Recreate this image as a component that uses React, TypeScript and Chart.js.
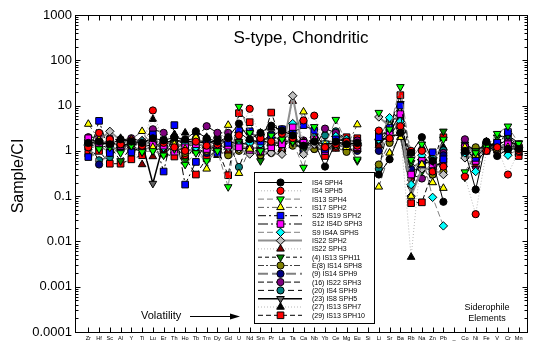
import React, { useEffect, useRef } from 'react';
import { Chart, registerables } from 'chart.js';
Chart.register(...registerables);

const FONT = '"Liberation Sans", Arial, Helvetica, sans-serif';

const categories = ['Zr','Hf','Sc','Al','Y','Ti','Lu','Er','Th','Ho','Tb','Tm','Dy','Gd','U','Nd','Sm','Pr','La','Ta','Ca','Nb','Yb','Ce','Mg','Eu','Si','Li','Sr','Ba','Rb','Na','Zn','Pb','_','Co','Ni','Fe','V','Cr','Mn'];
const yTickLabels = ['0.0001','0.001','0.01','0.1','1','10','100','1000'];
const chartTitle = 'S-type, Chondritic';
const yTitle = 'Sample/CI';

const seriesNames = ['IS4 SPH4','IS4 SPH5','IS13 SPH4','IS17 SPH2','S25 IS19 SPH2','S12 IS4D SPH3','S9 IS4A SPHS','IS22 SPH2','IS22 SPH3','(4) IS13 SPH11','E(8) IS14 SPH8','(9) IS14 SPH9','(16) IS22 SPH3','(20) IS4 SPH9','(23) IS8 SPH5','(27) IS13 SPH7','(29) IS13 SPH10'];

const is4Sph4 = [1.5,1.6,1.4,1.8,1.6,1.5,1.9,1.7,2.0,1.8,2.7,1.9,1.6,2.0,4.0,1.8,2.5,3.6,2.8,2.2,1.3,1.6,0.45,1.6,1.4,1.5,null,0.3,0.65,2.5,0.9,2.0,0.6,0.075,null,1.0,0.14,1.6,0.77,1.1,1.1];
const is4Sph5 = [1.2,2.5,1.8,1.4,1.7,1.3,7.8,1.5,1.2,1.0,1.6,1.3,1.4,1.9,2.2,8.5,1.9,1.6,2.4,1.9,4.7,6.0,1.2,1.4,1.6,1.3,null,2.8,1.9,3.5,1.0,1.0,0.35,0.45,null,0.27,0.04,1.0,1.2,0.3,1.0];
const is13Sph4 = [1.3,1.1,1.2,0.9,1.3,0.95,1.0,0.8,1.1,0.5,0.9,0.6,1.0,0.16,9.5,2.5,1.0,2.2,1.8,1.6,0.43,3.4,1.3,4.9,1.5,0.65,null,7.0,3.0,26,0.64,1.4,0.6,1.8,null,0.34,0.9,1.2,2.4,3.5,1.45];
const is17Sph2 = [3.9,1.8,1.4,1.5,1.8,2.7,1.2,1.6,1.4,1.1,2.0,0.4,1.5,3.7,0.32,1.1,2.5,1.5,2.0,2.1,7.3,1.7,1.4,1.3,1.2,3.8,null,0.16,0.9,2.0,0.1,0.5,0.2,0.15,null,1.2,0.8,1.4,1.1,1.2,1.2];
const s25Is19Sph2 = [0.73,4.6,0.9,1.4,0.93,1.3,2.3,0.35,3.7,0.18,0.57,1.7,0.9,1.5,2.8,2.7,1.6,2.2,3.0,2.4,3.7,2.8,1.1,1.8,1.6,1.4,null,2.0,3.2,10,0.94,0.5,0.93,0.65,null,1.0,0.7,1.3,1.5,2.6,1.0];
const s12Is4dSph3 = [1.9,1.5,1.6,1.3,1.5,1.2,1.4,1.3,0.96,1.2,1.4,1.1,1.2,1.3,1.2,1.05,1.0,1.2,1.4,3.3,1.5,1.8,1.0,1.5,1.3,1.2,null,2.2,2.6,6.5,0.3,0.6,0.5,0.52,null,1.2,0.6,1.0,1.3,1.4,1.1];
const s9Is4aSphs = [1.3,1.4,1.2,1.6,1.4,1.6,1.5,1.2,1.3,1.4,1.2,1.6,1.1,1.4,1.3,1.5,1.4,1.9,1.4,4.0,1.3,2.0,1.5,2.1,1.8,1.4,null,1.8,5.4,4.5,0.18,0.8,0.094,0.022,null,0.9,0.35,1.1,1.2,0.8,1.1];
const is22Sph2 = [1.4,1.7,2.7,1.7,1.5,1.7,1.3,1.5,1.4,1.3,1.5,1.2,1.3,1.2,1.1,0.85,1.0,0.9,0.84,16.5,0.84,1.4,1.2,1.3,1.4,1.3,null,5.6,3.5,4.0,0.1,0.4,0.39,0.3,null,0.7,0.8,1.0,1.1,1.1,1.2];
const is22Sph3 = [1.2,1.3,1.1,1.2,1.3,0.5,0.75,1.1,1.0,1.2,1.0,1.3,0.8,1.0,1.2,1.1,0.9,1.0,1.1,12.5,1.6,1.3,1.1,1.1,1.2,1.07,null,1.3,2.0,3.5,0.25,0.7,0.45,0.5,null,1.0,0.5,1.2,1.0,1.0,0.9];
const n4Is13Sph11 = [1.5,1.2,1.3,0.6,1.2,0.95,1.0,1.2,1.5,0.6,1.4,1.2,0.9,1.2,1.6,1.3,0.6,1.2,1.4,1.5,1.1,1.6,1.4,1.9,1.7,0.6,null,2.5,4.0,11,0.55,0.35,0.5,2.7,null,0.26,1.0,1.3,2.0,2.2,1.5];
const e8Is14Sph8 = [1.4,1.2,1.0,1.3,1.2,1.1,1.2,1.3,1.0,0.9,1.3,1.0,1.1,0.8,1.0,0.95,0.8,0.9,1.0,1.3,1.2,1.1,1.07,1.2,0.95,1.1,null,0.5,1.5,3.0,0.28,0.6,0.3,0.35,null,1.1,1.2,1.1,1.2,1.0,1.3];
const n9Is14Sph9 = [1.2,0.5,0.9,1.1,1.0,1.1,2.1,1.1,1.2,1.0,1.1,0.9,0.9,0.9,1.3,1.1,1.2,1.4,1.3,1.7,1.0,1.2,1.0,1.2,1.1,1.0,null,1.0,2.5,3.7,0.4,0.6,0.55,0.8,null,1.3,0.9,1.2,1.08,1.2,1.15];
const n16Is22Sph3 = [2.0,2.0,1.9,1.7,1.9,1.6,3.0,2.5,2.0,1.7,1.9,3.5,2.5,2.5,2.6,1.7,1.6,2.3,1.6,1.6,1.7,1.1,3.1,2.5,1.7,1.7,null,1.8,2.0,5.0,0.3,0.245,0.3,0.9,null,1.8,0.45,1.3,1.5,1.6,1.3];
const n20Is4Sph9 = [1.4,0.62,0.73,1.6,1.7,1.4,1.6,1.8,1.6,1.5,1.7,1.6,1.4,1.6,0.44,1.7,1.6,2.0,3.0,2.0,0.88,1.5,2.2,2.7,1.8,1.5,null,0.4,4.5,6.0,0.35,0.43,0.7,1.03,null,0.85,1.0,1.5,1.3,1.8,1.2];
const n23Is8Sph5 = [1.6,1.4,1.5,1.3,1.4,1.5,0.19,1.5,1.7,1.6,1.6,1.5,1.7,1.6,1.4,1.5,1.7,1.5,1.5,1.8,1.4,1.5,1.5,1.4,1.6,1.3,null,1.5,2.2,2.2,0.15,0.9,0.4,0.6,null,1.4,1.0,1.4,1.2,1.2,1.1];
const n27Is13Sph7 = [1.7,1.6,1.5,1.9,1.7,1.6,5.0,1.8,2.3,2.5,2.6,2.0,2.2,2.0,1.8,1.9,2.0,3.2,2.0,2.2,1.6,1.8,1.4,1.8,1.5,1.6,null,2.0,1.8,2.8,0.0045,1.2,0.8,1.2,null,1.3,1.1,1.6,1.3,1.3,1.3];
const n29Is13Sph10 = [0.87,1.0,0.52,0.52,0.65,0.8,1.55,0.87,0.75,0.7,0.3,0.68,1.1,0.29,6.8,4.3,1.2,7.0,1.5,1.9,1.2,2.0,0.77,2.0,2.0,1.9,null,1.4,3.3,17,0.07,0.073,0.35,2.0,null,1.1,0.65,1.08,1.5,2.3,0.77];

const seriesValues = [is4Sph4,is4Sph5,is13Sph4,is17Sph2,s25Is19Sph2,s12Is4dSph3,s9Is4aSphs,is22Sph2,is22Sph3,n4Is13Sph11,e8Is14Sph8,n9Is14Sph9,n16Is22Sph3,n20Is4Sph9,n23Is8Sph5,n27Is13Sph7,n29Is13Sph10];

type St = { fill: string; marker: string; rot: number; r: number; line: string; dash: number[]; lw: number };
const seriesStyles: St[] = [
  { fill: '#000000', marker: 'circle', rot: 0, r: 3.6, line: '#000000', dash: [], lw: 1 },
  { fill: '#ff0000', marker: 'circle', rot: 0, r: 3.6, line: '#b8b8b8', dash: [1, 2], lw: 1 },
  { fill: '#00ff00', marker: 'triangle', rot: 180, r: 4.4, line: '#808080', dash: [6, 3], lw: 1 },
  { fill: '#ffff00', marker: 'triangle', rot: 0, r: 4.4, line: '#606060', dash: [6, 3, 2, 3], lw: 1 },
  { fill: '#0000ff', marker: 'rect', rot: 0, r: 4.7, line: '#000000', dash: [8, 3, 2, 3], lw: 1 },
  { fill: '#ff00ff', marker: 'rect', rot: 0, r: 4.7, line: '#000000', dash: [10, 3, 2, 3], lw: 1 },
  { fill: '#00ffff', marker: 'rectRot', rot: 0, r: 4.2, line: '#808080', dash: [6, 3], lw: 1 },
  { fill: '#c0c0c0', marker: 'rectRot', rot: 0, r: 4.2, line: '#909090', dash: [], lw: 2 },
  { fill: '#800000', marker: 'triangle', rot: 0, r: 4.4, line: '#b8b8b8', dash: [1, 2], lw: 1 },
  { fill: '#008000', marker: 'triangle', rot: 180, r: 4.4, line: '#000000', dash: [4, 3], lw: 1 },
  { fill: '#808000', marker: 'circle', rot: 0, r: 3.6, line: '#404040', dash: [6, 2, 2, 2], lw: 1 },
  { fill: '#000080', marker: 'circle', rot: 0, r: 3.6, line: '#808080', dash: [10, 4], lw: 2 },
  { fill: '#800080', marker: 'circle', rot: 0, r: 3.6, line: '#000000', dash: [6, 3], lw: 1 },
  { fill: '#008080', marker: 'circle', rot: 0, r: 3.6, line: '#000000', dash: [6, 4], lw: 1 },
  { fill: '#606060', marker: 'triangle', rot: 180, r: 4.4, line: '#000000', dash: [], lw: 1.5 },
  { fill: '#000000', marker: 'triangle', rot: 0, r: 4.4, line: '#b8b8b8', dash: [1, 2], lw: 1 },
  { fill: '#ff0000', marker: 'rect', rot: 0, r: 4.7, line: '#000000', dash: [5, 3], lw: 1 },
];

const yTicks: { value: number; label: string }[] = [];
for (let e = -4; e <= 3; e++) {
  const top = e === 3 ? 1 : 9;
  for (let m = 1; m <= top; m++) {
    yTicks.push({ value: m * Math.pow(10, e), label: m === 1 ? yTickLabels[e + 4] : '' });
  }
}

function drawMarker(ctx: CanvasRenderingContext2D, s: St, x: number, y: number) {
  ctx.save();
  ctx.setLineDash([]);
  ctx.lineWidth = 1;
  ctx.strokeStyle = '#000';
  ctx.fillStyle = s.fill;
  ctx.beginPath();
  const r = s.r;
  if (s.marker === 'circle') {
    ctx.arc(x, y, r, 0, Math.PI * 2);
  } else if (s.marker === 'rect') {
    const h = r * Math.SQRT1_2;
    ctx.rect(x - h, y - h, 2 * h, 2 * h);
  } else if (s.marker === 'rectRot') {
    ctx.moveTo(x - r, y); ctx.lineTo(x, y - r); ctx.lineTo(x + r, y); ctx.lineTo(x, y + r); ctx.closePath();
  } else {
    const base = s.rot === 180 ? Math.PI / 2 : -Math.PI / 2;
    for (let k = 0; k < 3; k++) {
      const a = base + (k * 2 * Math.PI) / 3;
      const px = x + Math.cos(a) * r, py = y + Math.sin(a) * r;
      if (k === 0) ctx.moveTo(px, py); else ctx.lineTo(px, py);
    }
    ctx.closePath();
  }
  ctx.fill();
  ctx.stroke();
  ctx.restore();
}

const decor = {
  id: 'decor',
  afterDraw(chart: any) {
    const { ctx, chartArea: a, scales } = chart;
    const xs = scales.x, ys = scales.y;
    ctx.save();
    ctx.setLineDash([]);
    ctx.strokeStyle = '#000';
    ctx.lineWidth = 1;
    const L = Math.round(a.left) + 0.5, R = Math.round(a.right) + 0.5, T = Math.round(a.top) + 0.5, B = Math.round(a.bottom) + 0.5;
    ctx.strokeRect(L, T, R - L, B - T);
    ctx.beginPath();
    categories.forEach((_, i) => {
      const x = Math.round(xs.getPixelForValue(i)) + 0.5;
      ctx.moveTo(x, B); ctx.lineTo(x, B - 5);
      ctx.moveTo(x, T); ctx.lineTo(x, T + 5);
    });
    yTicks.forEach((t) => {
      const y = Math.round(ys.getPixelForValue(t.value)) + 0.5;
      const len = t.label ? 5 : 3;
      ctx.moveTo(L, y); ctx.lineTo(L + len, y);
      ctx.moveTo(R, y); ctx.lineTo(R - len, y);
    });
    ctx.stroke();

    ctx.fillStyle = '#000';
    ctx.textAlign = 'center';
    ctx.textBaseline = 'alphabetic';
    ctx.font = `17px ${FONT}`;
    ctx.fillText(chartTitle, (a.left + a.right) / 2, 42.5);

    ctx.save();
    ctx.translate(19, 176);
    ctx.rotate(-Math.PI / 2);
    ctx.textBaseline = 'middle';
    ctx.font = `16px ${FONT}`;
    ctx.fillText(yTitle, 0, 0);
    ctx.restore();

    ctx.textAlign = 'left';
    ctx.textBaseline = 'middle';
    ctx.font = `11px ${FONT}`;
    ctx.fillText('Volatility', 141, 316);
    ctx.beginPath();
    ctx.moveTo(190, 316.5); ctx.lineTo(231, 316.5);
    ctx.stroke();
    ctx.beginPath();
    ctx.moveTo(240, 316.5); ctx.lineTo(230, 313.5); ctx.lineTo(230, 319.5); ctx.closePath();
    ctx.fill();

    ctx.textAlign = 'center';
    ctx.font = `9px ${FONT}`;
    ctx.fillText('Siderophile', 487, 308);
    ctx.fillText('Elements', 487, 318.5);

    // legend
    const lx0 = 254, ly0 = 172, lx1 = 374, ly1 = 323;
    ctx.fillStyle = '#fff';
    ctx.fillRect(lx0, ly0, lx1 - lx0, ly1 - ly0);
    ctx.strokeStyle = '#000';
    ctx.lineWidth = 1;
    ctx.strokeRect(lx0 + 0.5, ly0 + 0.5, lx1 - lx0, ly1 - ly0);
    seriesNames.forEach((name, i) => {
      const s = seriesStyles[i];
      const y = 182.5 + i * 8.3;
      ctx.save();
      ctx.strokeStyle = s.line;
      ctx.lineWidth = s.lw;
      ctx.setLineDash(s.dash);
      ctx.beginPath();
      ctx.moveTo(258, y); ctx.lineTo(302, y);
      ctx.stroke();
      ctx.restore();
      drawMarker(ctx, s, 280.5, y);
      ctx.fillStyle = '#000';
      ctx.textAlign = 'left';
      ctx.textBaseline = 'middle';
      ctx.font = `7px ${FONT}`;
      ctx.fillText(name, 312, y + 0.5);
    });
    ctx.restore();
  },
};

export default function App() {
  const ref = useRef<HTMLCanvasElement | null>(null);
  useEffect(() => {
    if (!ref.current) return;
    const datasets = seriesValues.map((vals, k) => {
      const s = seriesStyles[k];
      return {
        label: seriesNames[k],
        data: vals.map((v, i) => ({ x: i, y: v })),
        borderColor: s.line,
        borderWidth: s.lw,
        borderDash: s.dash,
        backgroundColor: s.fill,
        pointStyle: s.marker,
        pointRotation: s.rot,
        pointRadius: s.r,
        pointBackgroundColor: s.fill,
        pointBorderColor: '#000',
        pointBorderWidth: 1,
        spanGaps: false,
        tension: 0,
        fill: false,
      };
    });
    const chart = new Chart(ref.current, {
      type: 'line',
      data: { datasets } as any,
      options: {
        animation: false,
        responsive: false,
        devicePixelRatio: 1,
        layout: { padding: { top: 15, right: 18, left: 0, bottom: 0 } },
        plugins: { legend: { display: false }, tooltip: { enabled: false }, title: { display: false } },
        scales: {
          x: {
            type: 'linear',
            min: -1.236,
            max: 40.77,
            afterBuildTicks: (s: any) => { s.ticks = categories.map((_, i) => ({ value: i })); },
            afterFit: (s: any) => { s.height = 19; },
            ticks: {
              autoSkip: false, maxRotation: 0, minRotation: 0, padding: 3, color: '#000',
              font: { size: 5.6, family: FONT },
              callback: (v: any) => categories[v as number] ?? '',
            },
            grid: { display: false, drawTicks: false },
            border: { display: false },
          },
          y: {
            type: 'logarithmic',
            min: 0.0001,
            max: 1000,
            afterBuildTicks: (s: any) => { s.ticks = yTicks.map((t) => ({ value: t.value })); },
            afterFit: (s: any) => { s.width = 75; },
            ticks: {
              autoSkip: false, padding: 3, color: '#000',
              font: { size: 13, family: FONT },
              callback: (_v: any, i: number) => yTicks[i] ? yTicks[i].label : '',
            },
            grid: { display: false, drawTicks: false },
            border: { display: false },
          },
        },
      } as any,
      plugins: [decor],
    });
    return () => chart.destroy();
  }, []);
  return (
    <div style={{ position: 'fixed', left: 0, top: 0, width: 545, height: 351, background: '#fff' }}>
      <canvas ref={ref} width={545} height={351} style={{ display: 'block' }} />
    </div>
  );
}
